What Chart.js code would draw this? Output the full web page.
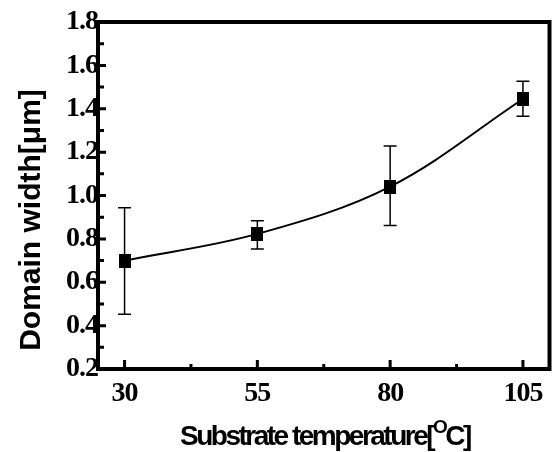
<!DOCTYPE html>
<html>
<head>
<meta charset="utf-8">
<script src="https://cdn.jsdelivr.net/npm/chart.js@4.4.1/dist/chart.umd.min.js"></script>
<style>
    html, body { margin: 0; padding: 0; background: #fff; }
    #wrap { width: 552px; height: 452px; }
</style>
</head>
<body>
<div id="wrap"><canvas id="chartDomain" width="552" height="452"></canvas></div>
<script>
// substrate temperature (C) and measured domain width (um)
const temperatures = [30, 55, 80, 105];
const domainWidth = [0.70, 0.823, 1.041, 1.445];
const errLow = [0.452, 0.753, 0.862, 1.365];
const errHigh = [0.944, 0.884, 1.228, 1.527];

const xTicks = [30, 55, 80, 105];
const xMinorTicks = [42.5, 67.5, 92.5];
const yTicks = [0.2, 0.4, 0.6, 0.8, 1.0, 1.2, 1.4, 1.6, 1.8];
const yMinorTicks = [0.3, 0.5, 0.7, 0.9, 1.1, 1.3, 1.5, 1.7];

// filled square marker, slightly taller than wide
const marker = document.createElement('canvas');
marker.width = 12;
marker.height = 14;
const mctx = marker.getContext('2d');
mctx.fillStyle = '#000';
mctx.fillRect(0, 0, 12, 14);

const frameAndTicks = {
    id: 'frameAndTicks',
    beforeDraw(chart) {
        // tick labels in the original are set tight
        chart.ctx.letterSpacing = '-1px';
    },
    beforeDatasetsDraw(chart) {
        const { ctx, scales: { x, y } } = chart;
        // error bars
        ctx.save();
        ctx.strokeStyle = '#000';
        ctx.lineWidth = 1.5;
        temperatures.forEach((t, i) => {
            const px = x.getPixelForValue(t);
            const top = y.getPixelForValue(errHigh[i]);
            const bot = y.getPixelForValue(errLow[i]);
            ctx.beginPath();
            ctx.moveTo(px, top);
            ctx.lineTo(px, bot);
            ctx.moveTo(px - 6.5, top);
            ctx.lineTo(px + 6.5, top);
            ctx.moveTo(px - 6.5, bot);
            ctx.lineTo(px + 6.5, bot);
            ctx.stroke();
        });
        ctx.restore();
    },
    afterDraw(chart) {
        const { ctx, chartArea: a, scales: { x, y } } = chart;
        ctx.save();
        ctx.strokeStyle = '#000';
        ctx.lineWidth = 4;
        ctx.strokeRect(a.left, a.top, a.right - a.left, a.bottom - a.top);

        // inward tick marks on left and bottom axes
        ctx.lineWidth = 3;
        ctx.beginPath();
        xTicks.forEach(v => {
            const px = x.getPixelForValue(v);
            ctx.moveTo(px, a.bottom);
            ctx.lineTo(px, a.bottom - 9);
        });
        xMinorTicks.forEach(v => {
            const px = x.getPixelForValue(v);
            ctx.moveTo(px, a.bottom);
            ctx.lineTo(px, a.bottom - 5);
        });
        yTicks.forEach(v => {
            const py = y.getPixelForValue(v);
            ctx.moveTo(a.left, py);
            ctx.lineTo(a.left + 8, py);
        });
        yMinorTicks.forEach(v => {
            const py = y.getPixelForValue(v);
            ctx.moveTo(a.left, py);
            ctx.lineTo(a.left + 6, py);
        });
        ctx.stroke();

        // axis titles
        ctx.fillStyle = '#000';
        ctx.letterSpacing = '0px';
        ctx.save();
        ctx.translate(40, 220);
        ctx.rotate(-Math.PI / 2);
        ctx.font = 'bold 30px "Liberation Sans", Arial, sans-serif';
        ctx.textAlign = 'center';
        ctx.textBaseline = 'alphabetic';
        ctx.fillText('Domain width[\u03bcm]', 0, 0);
        ctx.restore();

        ctx.letterSpacing = '-2.5px';
        ctx.textAlign = 'left';
        ctx.textBaseline = 'alphabetic';
        let tx = 180;
        ctx.font = 'bold 28px "Liberation Sans", Arial, sans-serif';
        ctx.fillText('Substrate temperature[', tx, 445);
        tx += ctx.measureText('Substrate temperature[').width;
        ctx.font = 'bold 19px "Liberation Sans", Arial, sans-serif';
        ctx.fillText('O', tx, 433);
        tx += ctx.measureText('O').width;
        ctx.font = 'bold 28px "Liberation Sans", Arial, sans-serif';
        ctx.fillText('C]', tx, 445);
        ctx.restore();
        ctx.letterSpacing = '0px';
    }
};

new Chart(document.getElementById('chartDomain'), {
    type: 'line',
    data: {
        datasets: [{
            data: temperatures.map((t, i) => ({ x: t, y: domainWidth[i] })),
            borderColor: '#000',
            borderWidth: 2,
            tension: 0.35,
            pointStyle: marker,
            pointRadius: 7,
            fill: false
        }]
    },
    options: {
        responsive: false,
        animation: false,
        layout: {
            autoPadding: false,
            padding: { top: 22, right: 2.5, left: 0, bottom: 0 }
        },
        plugins: {
            legend: { display: false },
            tooltip: { enabled: false }
        },
        scales: {
            x: {
                type: 'linear',
                min: 25,
                max: 110,
                afterBuildTicks: scale => {
                    scale.ticks = xTicks.map(v => ({ value: v }));
                },
                afterFit: scale => {
                    scale.height = 83;
                    scale.paddingLeft = 0;
                    scale.paddingRight = 0;
                },
                grid: { display: false, drawTicks: false },
                border: { display: false },
                ticks: {
                    padding: 8,
                    color: '#000',
                    maxRotation: 0,
                    font: { family: '"Liberation Serif", "Times New Roman", serif', size: 28, weight: 'bold' }
                }
            },
            y: {
                min: 0.2,
                max: 1.8,
                afterBuildTicks: scale => {
                    scale.ticks = yTicks.map(v => ({ value: v }));
                },
                afterFit: scale => {
                    scale.width = 98;
                    scale.paddingTop = 0;
                    scale.paddingBottom = 0;
                },
                grid: { display: false, drawTicks: false },
                border: { display: false },
                ticks: {
                    padding: 0,
                    color: '#000',
                    callback: v => v.toFixed(1),
                    font: { family: '"Liberation Serif", "Times New Roman", serif', size: 28, weight: 'bold' }
                }
            }
        }
    },
    plugins: [frameAndTicks]
});
</script>
</body>
</html>
